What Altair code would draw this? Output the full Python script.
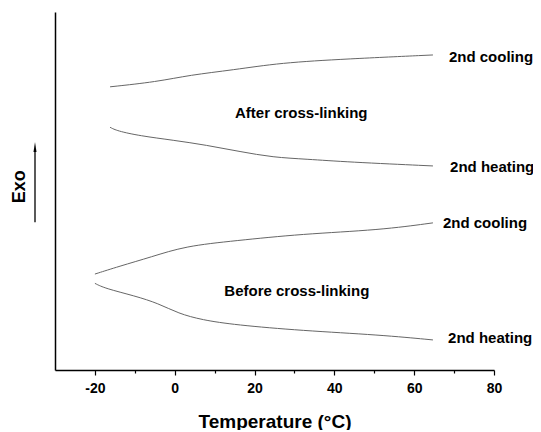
import altair as alt
import pandas as pd

# Temperature (°C) and relative heat flow (a.u., exo up)
after_cool_T = [-16.2, -4.5, 3.8, 14.6, 26.4, 43.2, 64.7]
after_cool_y = [79.1, 80.5, 82.4, 83.8, 85.8, 86.9, 88.0]

after_heat_T = [-16.2, -14.5, -8.7, -0.4, 8.0, 16.4, 24.6, 33.1, 43.2, 64.7]
after_heat_y = [67.8, 66.8, 65.4, 64.2, 62.8, 61.0, 59.4, 58.9, 58.1, 57.0]

before_cool_T = [-20.0, -14.1, -5.8, 2.6, 15.1, 31.8, 51.5, 64.7]
before_cool_y = [26.8, 28.9, 31.6, 34.6, 36.1, 38.0, 39.1, 41.1]

before_heat_T = [-20.0, -17.5, -10.0, -4.1, 0.9, 6.8, 15.1, 31.8, 51.5, 64.7]
before_heat_y = [24.2, 22.8, 20.7, 18.6, 15.8, 14.0, 12.6, 11.0, 9.8, 8.4]

label_text = ["2nd cooling", "After cross-linking", "2nd heating",
              "2nd cooling", "Before cross-linking", "2nd heating"]
label_T = [68.7, 31.7, 69.0, 67.2, 30.6, 68.5]
label_y = [87.4, 71.9, 56.8, 41.0, 22.2, 8.85]
label_align = ["left", "center", "left", "left", "center", "left"]

rows = []
for name, Ts, ys in [("after_cool", after_cool_T, after_cool_y),
                     ("after_heat", after_heat_T, after_heat_y),
                     ("before_cool", before_cool_T, before_cool_y),
                     ("before_heat", before_heat_T, before_heat_y)]:
    for i, (t, v) in enumerate(zip(Ts, ys)):
        rows.append({"series": name, "T": t, "v": v, "i": i})
curves = pd.DataFrame(rows)

labels = pd.DataFrame({"text": label_text, "T": label_T, "v": label_y, "align": label_align})

FONT = "Liberation Sans"

x_scale = alt.Scale(domain=[-30, 80], nice=False, zero=False)
y_scale = alt.Scale(domain=[0, 100], nice=False, zero=False)

x_axis = alt.Axis(
    values=list(range(-20, 81, 10)),
    labelExpr="datum.value % 20 == 0 ? '' + datum.value : ''",
    tickSize={"condition": {"test": "datum.value % 20 == 0", "value": 5}, "value": 3},
    grid=False, domainColor="black", domainWidth=1.5, tickColor="black", tickWidth=1.2,
    labelFont=FONT, labelFontSize=14, labelFontWeight="bold", labelColor="black",
    labelPadding=6, labelFlush=False,
    title="Temperature (°C)", titleFont=FONT, titleFontSize=19, titleFontWeight="bold",
    titleColor="black", titlePadding=17,
)
y_axis = alt.Axis(
    ticks=False, labels=False, grid=False, title=None,
    domainColor="black", domainWidth=1.5,
)

lines = alt.Chart(curves).mark_line(
    color="#666666", strokeWidth=1, interpolate="basis"
).encode(
    x=alt.X("T:Q", scale=x_scale, axis=x_axis),
    y=alt.Y("v:Q", scale=y_scale, axis=y_axis),
    detail="series:N",
    order="i:Q",
)

text_left = alt.Chart(labels[labels["align"] == "left"]).mark_text(
    font=FONT, fontSize=15, fontWeight="bold", color="black", align="left", baseline="middle"
).encode(x=alt.X("T:Q", scale=x_scale), y=alt.Y("v:Q", scale=y_scale), text="text:N")

text_center = alt.Chart(labels[labels["align"] == "center"]).mark_text(
    font=FONT, fontSize=15, fontWeight="bold", color="black", align="center", baseline="middle"
).encode(x=alt.X("T:Q", scale=x_scale), y=alt.Y("v:Q", scale=y_scale), text="text:N")

exo = pd.DataFrame({"text": ["Exo"], "v": [51.2]})
exo_text = alt.Chart(exo).mark_text(
    font=FONT, fontSize=18, fontWeight="bold", color="black", angle=270,
    align="center", baseline="alphabetic"
).encode(x=alt.value(-30.5), y=alt.Y("v:Q", scale=y_scale), text="text:N")

arrow_df = pd.DataFrame({"v0": [41.3], "v1": [61.0]})
arrow_shaft = alt.Chart(arrow_df).mark_rule(color="black", strokeWidth=1.3).encode(
    x=alt.value(-20), y=alt.Y("v0:Q", scale=y_scale), y2="v1:Q"
)
head_df = pd.DataFrame({"v": [62.3]})
arrow_head = alt.Chart(head_df).mark_point(
    shape="M 0 -1 L 0.3 1 L -0.3 1 Z", filled=True, color="black", size=100, opacity=1
).encode(x=alt.value(-20), y=alt.Y("v:Q", scale=y_scale))

chart = alt.layer(lines, text_left, text_center, exo_text, arrow_shaft, arrow_head).properties(
    width=439, height=358,
    autosize=alt.AutoSizeParams(type="none"),
    padding={"left": 47, "top": 4, "right": 39, "bottom": 60},
    background="white",
).configure_view(stroke=None)

chart.save("out.html", embed_options={"renderer": "svg", "actions": False})
